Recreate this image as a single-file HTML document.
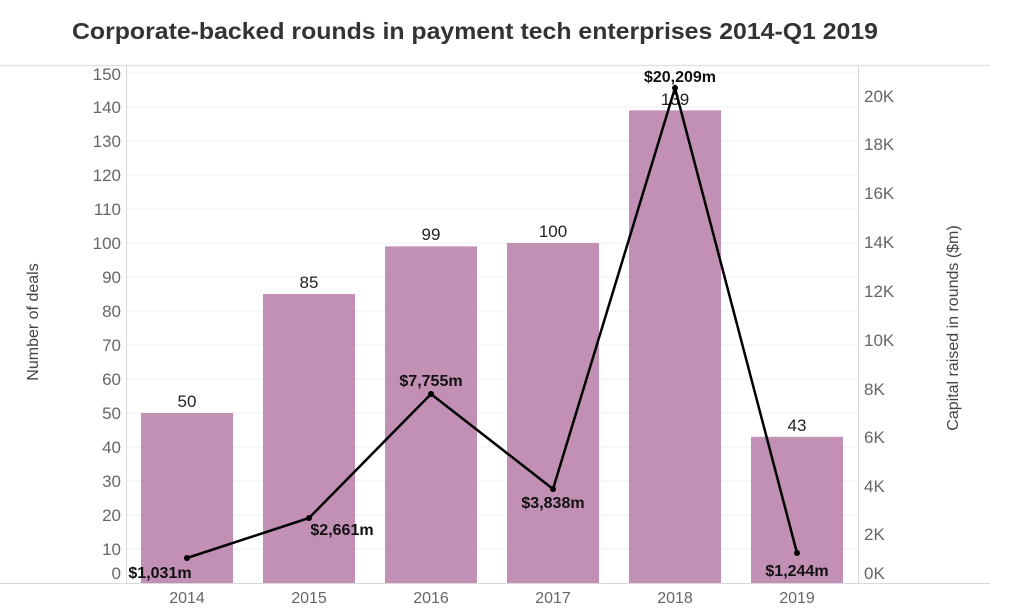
<!DOCTYPE html>
<html><head><meta charset="utf-8"><style>
body{margin:0;background:#fff;}
svg{display:block;font-family:"Liberation Sans",Arial,sans-serif;}
</style></head><body>
<svg width="1024" height="616" viewBox="0 0 1024 616">
<text x="475" y="39" text-anchor="middle" font-size="23" font-weight="bold" fill="#333" textLength="806" lengthAdjust="spacingAndGlyphs">Corporate-backed rounds in payment tech enterprises 2014-Q1 2019</text>
<line x1="0" y1="65.5" x2="990" y2="65.5" stroke="#e2e2e2" stroke-width="1.5"/>
<g stroke="#efefef" stroke-width="1">
<line x1="126" x2="858" y1="549" y2="549"/><line x1="126" x2="858" y1="515" y2="515"/>
<line x1="126" x2="858" y1="481" y2="481"/><line x1="126" x2="858" y1="447" y2="447"/>
<line x1="126" x2="858" y1="413" y2="413"/><line x1="126" x2="858" y1="379" y2="379"/>
<line x1="126" x2="858" y1="345" y2="345"/><line x1="126" x2="858" y1="311" y2="311"/>
<line x1="126" x2="858" y1="277" y2="277"/><line x1="126" x2="858" y1="243" y2="243"/>
<line x1="126" x2="858" y1="209" y2="209"/><line x1="126" x2="858" y1="175" y2="175"/>
<line x1="126" x2="858" y1="141" y2="141"/><line x1="126" x2="858" y1="107" y2="107"/>
<line x1="126" x2="858" y1="73" y2="73"/>
</g>
<g fill="#c28fb5">
<rect x="141" y="413" width="92" height="170"/>
<rect x="263" y="294" width="92" height="289"/>
<rect x="385" y="246.4" width="92" height="336.6"/>
<rect x="507" y="243" width="92" height="340"/>
<rect x="629" y="110.4" width="92" height="472.6"/>
<rect x="751" y="436.8" width="92" height="146.2"/>
</g>
<line x1="126.5" y1="65" x2="126.5" y2="583" stroke="#d8d8d8"/>
<line x1="858.5" y1="65" x2="858.5" y2="583" stroke="#d8d8d8"/>
<line x1="0" y1="583.5" x2="990" y2="583.5" stroke="#d8d8d8"/>
<g font-size="17" fill="#666" text-anchor="end">
<text x="121" y="579">0</text><text x="121" y="555">10</text><text x="121" y="521">20</text>
<text x="121" y="487">30</text><text x="121" y="453">40</text><text x="121" y="419">50</text>
<text x="121" y="385">60</text><text x="121" y="351">70</text><text x="121" y="317">80</text>
<text x="121" y="283">90</text><text x="121" y="249">100</text><text x="121" y="215">110</text>
<text x="121" y="181">120</text><text x="121" y="147">130</text><text x="121" y="113">140</text>
<text x="121" y="80">150</text>
</g>
<g font-size="17" fill="#666">
<text x="864" y="579">0K</text><text x="864" y="540">2K</text><text x="864" y="492">4K</text>
<text x="864" y="443">6K</text><text x="864" y="395">8K</text><text x="864" y="346">10K</text>
<text x="864" y="297">12K</text><text x="864" y="248">14K</text><text x="864" y="199">16K</text>
<text x="864" y="150">18K</text><text x="864" y="102">20K</text>
</g>
<g font-size="16" fill="#666" text-anchor="middle">
<text x="187" y="603">2014</text><text x="309" y="603">2015</text><text x="431" y="603">2016</text>
<text x="553" y="603">2017</text><text x="675" y="603">2018</text><text x="797" y="603">2019</text>
</g>
<text transform="translate(38,322) rotate(-90)" font-size="16" fill="#444" text-anchor="middle">Number of deals</text>
<text transform="translate(958,328) rotate(-90)" font-size="16" fill="#444" text-anchor="middle">Capital raised in rounds ($m)</text>
<g font-size="17" fill="#222" text-anchor="middle">
<text x="187" y="407">50</text><text x="309" y="288">85</text><text x="431" y="240">99</text>
<text x="553" y="237">100</text><text x="675" y="105">139</text><text x="797" y="431">43</text>
</g>
<polyline points="187,558 309,518 431,394 553,489 675,88 797,553" fill="none" stroke="#000" stroke-width="2.5"/>
<g fill="#000">
<circle cx="187" cy="558" r="3"/><circle cx="309" cy="518" r="3"/><circle cx="431" cy="394" r="3"/>
<circle cx="553" cy="489" r="3"/><circle cx="675" cy="88" r="3"/><circle cx="797" cy="553" r="3"/>
</g>
<g font-size="16" font-weight="bold" fill="#111" text-anchor="middle">
<text x="160" y="578">$1,031m</text><text x="342" y="535">$2,661m</text><text x="431" y="386">$7,755m</text>
<text x="553" y="508">$3,838m</text><text x="680" y="82">$20,209m</text><text x="797" y="576">$1,244m</text>
</g>
</svg>
</body></html>
